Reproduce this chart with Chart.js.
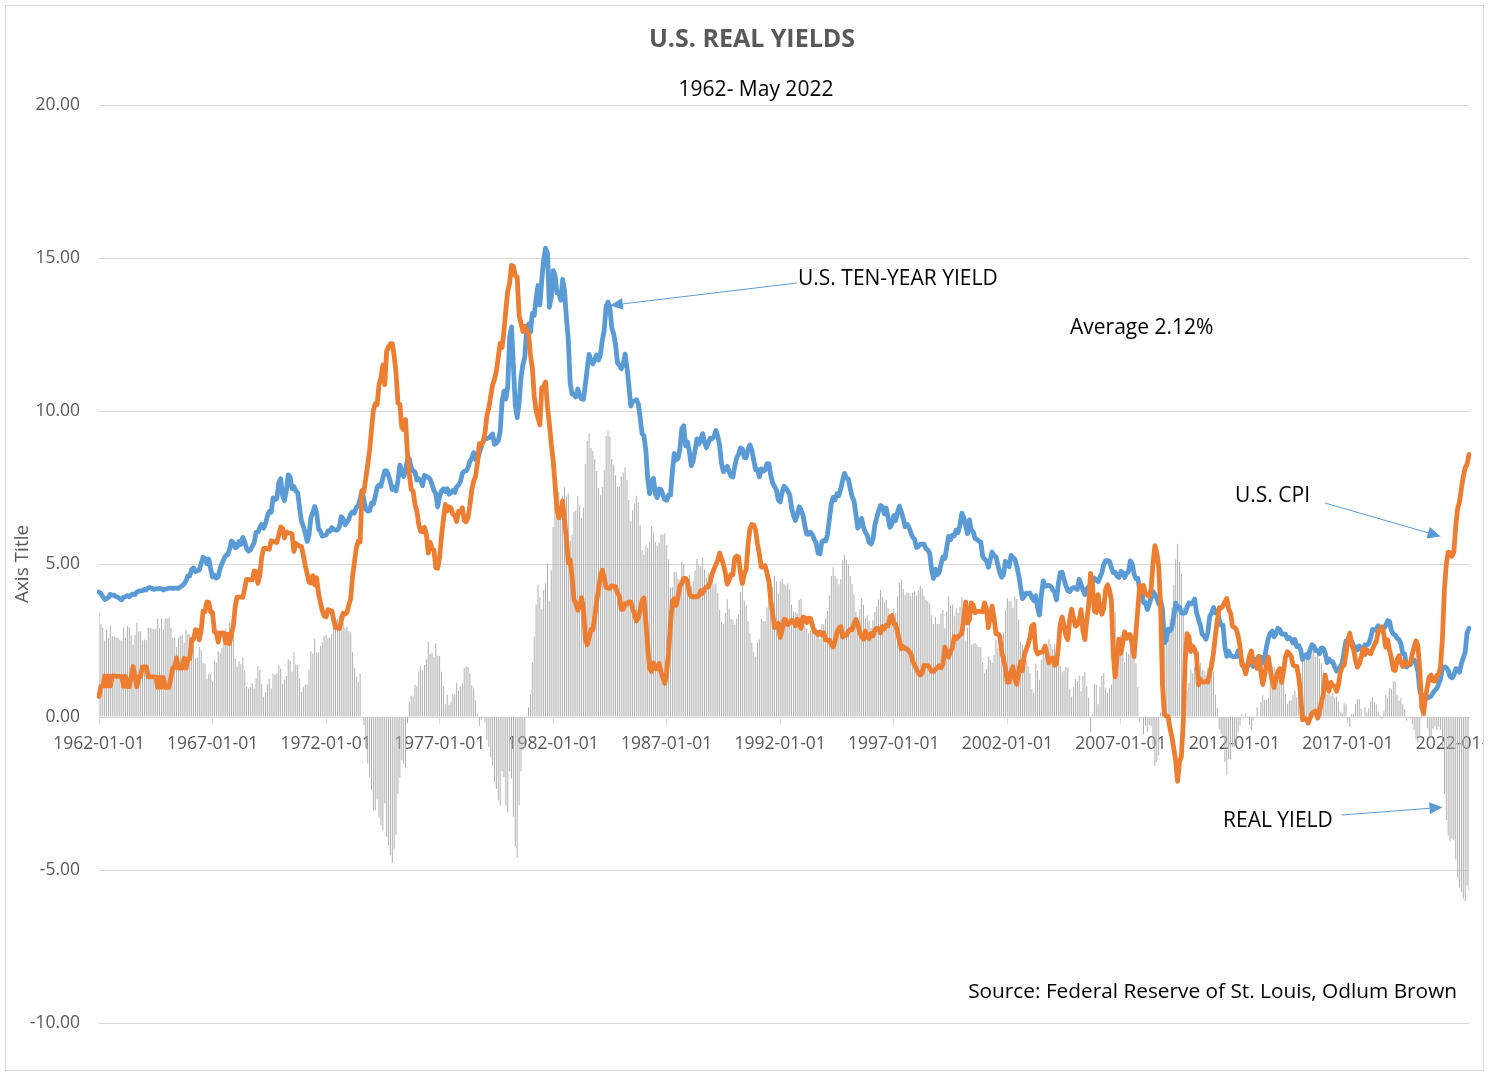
<!DOCTYPE html>
<html>
<head>
<meta charset="utf-8">
<title>U.S. Real Yields</title>
<script src="https://cdn.jsdelivr.net/npm/chart.js@4.4.1/dist/chart.umd.min.js"></script>
<style>
  html, body { margin: 0; padding: 0; background: #fff; }
  #wrap { position: absolute; left: 0; top: 0; width: 1484px; height: 1071px; overflow: hidden; }
</style>
</head>
<body>
<div id="wrap"><canvas id="realYieldChart" width="1484" height="1071"></canvas></div>
<script>
// --- data (monthly, Jan 1962 .. May 2022) ---
const FIRST_YEAR = 1962;

// U.S. 10-year Treasury yield, %
const tenYearYield = [
  4.08,4.04,3.93,3.84,3.87,3.91,4.01,3.98,3.98,3.93,3.92,3.86, // 1962
  3.83,3.92,3.93,3.97,3.93,3.99,4.02,4.00,4.08,4.11,4.12,4.13, // 1963
  4.17,4.15,4.22,4.23,4.20,4.17,4.19,4.19,4.20,4.19,4.15,4.18, // 1964
  4.19,4.21,4.21,4.20,4.21,4.21,4.20,4.25,4.29,4.35,4.45,4.62, // 1965
  4.61,4.83,4.87,4.75,4.78,4.81,5.02,5.22,5.18,5.01,5.16,4.84, // 1966
  4.58,4.63,4.54,4.59,4.85,5.02,5.16,5.28,5.30,5.48,5.75,5.70, // 1967
  5.53,5.56,5.74,5.64,5.87,5.72,5.50,5.42,5.46,5.58,5.70,6.03, // 1968
  6.04,6.19,6.30,6.17,6.32,6.57,6.72,6.69,7.16,7.10,7.14,7.65, // 1969
  7.79,7.24,7.07,7.39,7.91,7.84,7.46,7.53,7.39,7.33,6.84,6.39, // 1970
  6.24,6.00,5.74,5.96,6.52,6.69,6.88,6.67,6.15,6.07,5.91,5.93, // 1971
  5.95,6.08,6.07,6.19,6.13,6.11,6.11,6.21,6.55,6.48,6.28,6.36, // 1972
  6.46,6.64,6.71,6.67,6.85,6.90,7.13,7.40,7.09,6.79,6.73,6.74, // 1973
  6.99,6.96,7.21,7.51,7.58,7.54,7.81,8.04,8.04,7.90,7.68,7.43, // 1974
  7.50,7.39,7.73,8.23,8.06,7.86,8.06,8.40,8.43,8.14,8.05,8.00, // 1975
  7.74,7.79,7.73,7.56,7.90,7.86,7.83,7.77,7.59,7.41,7.29,6.87, // 1976
  7.21,7.39,7.46,7.37,7.46,7.28,7.33,7.40,7.34,7.52,7.58,7.69, // 1977
  7.96,8.03,8.04,8.15,8.35,8.46,8.64,8.41,8.42,8.64,8.81,9.01, // 1978
  9.10,9.10,9.12,9.18,9.25,8.91,8.95,9.03,9.33,10.30,10.65,10.39, // 1979
  10.80,12.41,12.75,11.47,10.18,9.78,10.25,11.10,11.51,11.75,12.68,12.84, // 1980
  12.57,13.19,13.12,13.68,14.10,13.47,14.28,14.94,15.32,15.15,13.39,13.72, // 1981
  14.59,14.43,13.86,13.87,13.62,14.30,13.95,13.06,12.34,10.91,10.55,10.54, // 1982
  10.46,10.72,10.51,10.40,10.38,10.85,11.38,11.85,11.65,11.54,11.69,11.83, // 1983
  11.67,11.84,12.32,12.63,13.41,13.56,13.36,12.72,12.52,12.16,11.57,11.50, // 1984
  11.38,11.51,11.86,11.43,10.85,10.16,10.31,10.33,10.37,10.24,9.78,9.26, // 1985
  9.19,8.70,7.78,7.30,7.71,7.80,7.30,7.17,7.45,7.43,7.25,7.11, // 1986
  7.08,7.25,7.25,8.02,8.61,8.40,8.45,8.76,9.42,9.52,8.86,8.99, // 1987
  8.67,8.21,8.37,8.72,9.09,8.92,9.06,9.26,8.98,8.80,8.96,9.11, // 1988
  9.09,9.17,9.36,9.18,8.86,8.28,8.02,8.11,8.19,8.01,7.87,7.84, // 1989
  8.21,8.47,8.59,8.79,8.76,8.48,8.47,8.75,8.89,8.72,8.39,8.08, // 1990
  8.09,7.85,8.11,8.04,8.07,8.28,8.27,7.90,7.65,7.53,7.42,7.09, // 1991
  7.03,7.34,7.54,7.48,7.39,7.26,6.84,6.59,6.42,6.59,6.87,6.77, // 1992
  6.60,6.26,5.98,5.97,6.04,5.96,5.81,5.68,5.36,5.33,5.72,5.77, // 1993
  5.75,5.97,6.48,6.97,7.18,7.10,7.30,7.24,7.46,7.74,7.96,7.81, // 1994
  7.78,7.47,7.20,7.06,6.63,6.17,6.28,6.49,6.20,6.04,5.93,5.71, // 1995
  5.65,5.81,6.27,6.51,6.74,6.91,6.87,6.64,6.83,6.53,6.20,6.30, // 1996
  6.58,6.42,6.69,6.89,6.71,6.49,6.22,6.30,6.21,6.03,5.88,5.81, // 1997
  5.54,5.57,5.65,5.64,5.65,5.50,5.46,5.34,4.81,4.53,4.83,4.65, // 1998
  4.72,5.00,5.23,5.18,5.54,5.90,5.79,5.94,5.92,6.11,6.03,6.28, // 1999
  6.66,6.52,6.26,5.99,6.44,6.10,6.05,5.83,5.80,5.74,5.72,5.24, // 2000
  5.16,5.10,4.89,5.14,5.39,5.28,5.24,4.97,4.73,4.57,4.65,5.09, // 2001
  5.04,4.91,5.28,5.21,5.16,4.93,4.65,4.26,3.87,3.94,4.05,4.03, // 2002
  4.05,3.90,3.81,3.96,3.57,3.33,3.98,4.45,4.27,4.29,4.30,4.27, // 2003
  4.15,4.08,3.83,4.35,4.72,4.73,4.50,4.28,4.13,4.10,4.19,4.23, // 2004
  4.22,4.17,4.50,4.34,4.14,4.00,4.18,4.26,4.20,4.46,4.54,4.47, // 2005
  4.42,4.57,4.72,4.99,5.11,5.11,5.09,4.88,4.72,4.73,4.60,4.56, // 2006
  4.76,4.72,4.56,4.69,4.75,5.10,5.00,4.67,4.52,4.53,4.15,4.10, // 2007
  3.74,3.74,3.51,3.68,3.88,4.10,4.01,3.89,3.69,3.81,3.53,2.42, // 2008
  2.52,2.87,2.82,2.93,3.29,3.72,3.56,3.59,3.40,3.39,3.40,3.59, // 2009
  3.73,3.69,3.73,3.85,3.42,3.20,3.01,2.70,2.65,2.54,2.76,3.29, // 2010
  3.39,3.58,3.41,3.46,3.17,3.00,3.00,2.30,1.98,2.15,2.01,1.98, // 2011
  1.97,1.97,2.17,2.05,1.80,1.62,1.53,1.68,1.72,1.75,1.65,1.72, // 2012
  1.91,1.98,1.96,1.76,1.93,2.30,2.58,2.74,2.81,2.62,2.72,2.90, // 2013
  2.86,2.71,2.72,2.71,2.56,2.60,2.54,2.42,2.53,2.30,2.33,2.21, // 2014
  1.88,1.98,2.04,1.94,2.20,2.36,2.32,2.17,2.17,2.07,2.26,2.24, // 2015
  2.09,1.78,1.89,1.81,1.81,1.64,1.50,1.56,1.63,1.76,2.14,2.49, // 2016
  2.43,2.42,2.48,2.30,2.30,2.19,2.32,2.21,2.20,2.36,2.35,2.40, // 2017
  2.58,2.86,2.84,2.87,2.98,2.91,2.89,2.89,3.00,3.15,3.12,2.83, // 2018
  2.71,2.68,2.57,2.53,2.40,2.07,2.06,1.63,1.70,1.71,1.81,1.86, // 2019
  1.76,1.50,0.87,0.66,0.67,0.73,0.62,0.65,0.68,0.79,0.87,0.93, // 2020
  1.08,1.26,1.61,1.64,1.62,1.52,1.32,1.28,1.37,1.58,1.56,1.47, // 2021
  1.76,1.93,2.13,2.75,2.90                                     // 2022
];

// U.S. CPI, year-over-year %
const cpiInflation = [
  0.67,1.01,1.01,1.34,1.01,1.34,1.01,1.34,1.34,1.33,1.33,1.33, // 1962
  1.33,1.00,1.33,0.99,0.99,1.32,1.65,1.32,0.99,1.32,1.32,1.64, // 1963
  1.64,1.64,1.31,1.31,1.31,1.31,1.30,0.97,1.30,0.97,1.29,0.97, // 1964
  0.97,0.97,1.29,1.61,1.61,1.93,1.60,1.60,1.60,1.92,1.60,1.91, // 1965
  1.91,2.54,2.54,2.85,2.84,2.52,2.83,3.46,3.44,3.76,3.75,3.43, // 1966
  3.41,2.78,2.76,2.45,2.75,2.75,2.74,2.42,2.71,2.40,2.70,2.99, // 1967
  3.62,3.92,3.92,3.92,3.91,4.20,4.50,4.49,4.48,4.48,4.77,4.76, // 1968
  4.37,4.65,5.23,5.51,5.51,5.50,5.48,5.76,5.74,5.72,5.70,5.95, // 1969
  6.21,6.17,5.85,6.05,6.02,6.01,5.98,5.41,5.67,5.63,5.59,5.57, // 1970
  5.27,4.95,4.68,4.41,4.38,4.62,4.32,4.55,4.04,3.75,3.47,3.30, // 1971
  3.27,3.51,3.48,3.47,3.19,2.92,2.91,2.89,3.13,3.39,3.36,3.41, // 1972
  3.65,3.87,4.59,5.06,5.53,5.75,5.72,7.39,7.36,7.80,8.25,8.71, // 1973
  9.38,10.02,10.24,10.21,10.87,11.08,11.51,10.86,11.95,12.10,12.20,12.20, // 1974
  11.80,11.23,10.25,10.21,9.47,9.39,9.72,8.60,7.93,7.44,7.38,6.94, // 1975
  6.72,6.29,6.07,6.05,6.20,5.97,5.36,5.71,5.49,5.46,4.88,4.86, // 1976
  5.22,5.91,6.45,6.95,6.73,6.87,6.83,6.62,6.60,6.39,6.72,6.70, // 1977
  6.84,6.43,6.38,6.51,6.92,7.42,7.70,7.86,8.31,8.93,8.89,9.01, // 1978
  9.28,9.86,10.09,10.49,10.85,11.04,11.30,11.76,12.21,12.07,12.61,13.29, // 1979
  13.91,14.18,14.76,14.73,14.41,14.38,13.13,12.87,12.60,12.77,12.65,12.52, // 1980
  11.83,11.41,10.49,10.00,9.78,9.55,10.76,10.80,10.95,10.14,9.59,8.92, // 1981
  8.39,7.62,6.78,6.51,6.68,7.06,6.44,5.85,5.04,5.14,4.59,3.83, // 1982
  3.71,3.49,3.60,3.90,3.55,2.58,2.36,2.58,2.86,2.85,3.27,3.79, // 1983
  4.19,4.60,4.80,4.56,4.23,4.22,4.20,4.29,4.27,4.26,4.05,3.95, // 1984
  3.52,3.52,3.70,3.69,3.76,3.76,3.55,3.35,3.14,3.23,3.51,3.80, // 1985
  3.89,3.11,2.26,1.59,1.49,1.77,1.58,1.57,1.75,1.47,1.28,1.10, // 1986
  1.46,2.10,3.03,3.78,3.86,3.65,3.93,4.28,4.36,4.53,4.53,4.43, // 1987
  4.03,3.93,3.93,3.93,3.93,3.96,4.13,4.04,4.17,4.25,4.25,4.42, // 1988
  4.67,4.83,4.98,5.12,5.36,5.17,4.98,4.71,4.34,4.47,4.66,4.65, // 1989
  5.20,5.26,5.23,4.71,4.36,4.67,4.82,5.62,6.16,6.29,6.27,6.11, // 1990
  5.65,5.31,4.90,4.90,4.95,4.70,4.45,3.80,3.39,2.92,2.99,3.06, // 1991
  2.60,2.82,3.19,3.18,3.02,3.09,3.16,3.14,2.98,3.20,3.05,2.90, // 1992
  3.26,3.25,3.09,3.23,3.22,3.00,2.78,2.77,2.69,2.78,2.68,2.75, // 1993
  2.52,2.51,2.51,2.36,2.29,2.49,2.77,2.90,2.96,2.61,2.67,2.67, // 1994
  2.80,2.86,2.85,3.05,3.19,3.04,2.76,2.62,2.54,2.81,2.61,2.56, // 1995
  2.73,2.65,2.84,2.90,2.89,2.75,2.95,2.88,3.00,2.98,3.26,3.32, // 1996
  3.04,3.03,2.76,2.50,2.23,2.30,2.23,2.23,2.15,2.08,1.83,1.70, // 1997
  1.57,1.44,1.37,1.44,1.69,1.68,1.68,1.62,1.49,1.49,1.55,1.61, // 1998
  1.67,1.61,1.73,2.28,2.09,1.96,2.14,2.26,2.63,2.56,2.62,2.68, // 1999
  2.74,3.22,3.76,3.07,3.19,3.73,3.66,3.41,3.45,3.45,3.45,3.44, // 2000
  3.73,3.53,2.92,3.27,3.62,3.25,2.72,2.72,2.65,2.13,1.90,1.60, // 2001
  1.14,1.14,1.48,1.64,1.23,1.07,1.46,1.80,1.51,2.03,2.20,2.38, // 2002
  2.60,2.98,3.02,2.22,2.06,2.11,2.11,2.16,2.32,2.04,1.77,1.88, // 2003
  1.93,1.69,1.74,2.29,3.05,3.27,2.99,2.65,2.53,3.19,3.52,3.26, // 2004
  2.97,3.01,3.15,3.51,2.80,2.53,3.17,3.64,4.69,4.35,3.46,3.42, // 2005
  4.00,3.60,3.36,3.55,4.17,4.32,4.15,3.82,2.06,1.31,1.97,2.54, // 2006
  2.08,2.42,2.78,2.57,2.69,2.69,2.36,1.97,2.76,3.54,4.31,4.08, // 2007
  4.30,4.03,3.98,3.94,4.18,5.02,5.60,5.37,4.94,3.66,1.07,0.09, // 2008
  0.03,0.02,-0.38,-0.64,-1.03,-1.43,-2.10,-1.48,-1.29,-0.18,1.84,2.72, // 2009
  2.62,2.14,2.31,2.22,2.00,1.05,1.24,1.15,1.14,1.17,1.14,1.44, // 2010
  1.69,2.11,2.68,3.16,3.57,3.56,3.63,3.77,3.87,3.53,3.39,2.96, // 2011
  2.93,2.87,2.65,2.30,1.70,1.66,1.41,1.69,1.99,2.16,1.77,1.74, // 2012
  1.59,1.98,1.47,1.06,1.36,1.75,1.96,1.52,1.18,0.96,1.24,1.50, // 2013
  1.58,1.13,1.51,1.95,2.13,2.07,1.99,1.70,1.66,1.66,1.32,0.76, // 2014
  -0.09,-0.03,-0.07,-0.20,-0.04,0.12,0.17,0.20,-0.04,0.17,0.50,0.73, // 2015
  1.37,1.02,0.85,1.13,1.02,1.01,0.84,1.06,1.46,1.64,1.69,2.07, // 2016
  2.50,2.74,2.38,2.20,1.87,1.63,1.73,1.94,2.23,2.04,2.20,2.11, // 2017
  2.07,2.21,2.36,2.46,2.80,2.87,2.95,2.70,2.28,2.52,2.18,1.91, // 2018
  1.55,1.52,1.86,2.00,1.79,1.65,1.81,1.75,1.71,1.76,2.05,2.29, // 2019
  2.49,2.33,1.54,0.33,0.12,0.65,0.99,1.31,1.37,1.18,1.17,1.36, // 2020
  1.40,1.68,2.62,4.16,4.99,5.39,5.37,5.25,5.39,6.24,6.81,7.04, // 2021
  7.48,7.87,8.15,8.26,8.58                                     // 2022
];

// labels shown on the category axis (every 5 years)
const xTickLabels = [
  '1962-01-01','1967-01-01','1972-01-01','1977-01-01','1982-01-01','1987-01-01','1992-01-01',
  '1997-01-01','2002-01-01','2007-01-01','2012-01-01','2017-01-01','2022-01-01'
];

const Y_MIN = -10, Y_MAX = 20, Y_STEP = 5;

// one category per month, "YYYY-MM-01"
const months = tenYearYield.map((_, i) => {
  const y = FIRST_YEAR + Math.floor(i / 12);
  const m = String(i % 12 + 1).padStart(2, '0');
  return `${y}-${m}-01`;
});

// real yield = ten-year yield minus CPI inflation
const realYield = tenYearYield.map((v, i) => +(v - cpiInflation[i]).toFixed(2));

// --- look ---
const FONT = '"Open Sans", "Liberation Sans", sans-serif';
const BLUE = '#5B9BD5';
const ORANGE = '#ED7D31';
const GRID = '#d9d9d9';
const AXIS_TEXT = '#595959';

// free text + arrows drawn over the chart (arrow tips point at data positions)
const notes = [
  { text: 'U.S. TEN-YEAR YIELD', x: 798, y: 279.5, size: 21, align: 'left',
    arrow: { from: [797, 283], to: { label: '1984-07-01', value: 13.45 } } },
  { text: 'Average 2.12%', x: 1070, y: 328.5, size: 21, align: 'left' },
  { text: 'U.S. CPI', x: 1235, y: 496.5, size: 21, align: 'left',
    arrow: { from: [1325, 503], to: { label: '2021-02-01', value: 5.9 } } },
  { text: 'REAL YIELD', x: 1223, y: 821.5, size: 21, align: 'left',
    arrow: { from: [1342, 815], to: { label: '2021-03-01', value: -2.95 } } },
  { text: 'Source: Federal Reserve of St. Louis, Odlum Brown', x: 1457, y: 992.5, size: 20.8, align: 'right' }
];

function drawArrow(c, x1, y1, x2, y2) {
  const ang = Math.atan2(y2 - y1, x2 - x1);
  const head = 13, half = 6;
  const bx = x2 - head * Math.cos(ang), by = y2 - head * Math.sin(ang);
  c.strokeStyle = BLUE;
  c.fillStyle = BLUE;
  c.lineWidth = 1;
  c.beginPath();
  c.moveTo(x1, y1);
  c.lineTo(bx, by);
  c.stroke();
  c.beginPath();
  c.moveTo(x2, y2);
  c.lineTo(bx + half * Math.sin(ang), by - half * Math.cos(ang));
  c.lineTo(bx - half * Math.sin(ang), by + half * Math.cos(ang));
  c.closePath();
  c.fill();
}

const frameAndNotes = {
  id: 'frameAndNotes',
  afterDraw(chart) {
    const c = chart.ctx;
    const xs = chart.scales.x, ys = chart.scales.y;
    c.save();

    // outer frame
    c.strokeStyle = GRID;
    c.lineWidth = 1;
    c.strokeRect(5.5, 5.5, 1478, 1065);

    // title + subtitle
    c.textBaseline = 'middle';
    c.textAlign = 'center';
    c.fillStyle = AXIS_TEXT;
    c.font = `bold 25px ${FONT}`;
    c.fillText('U.S. REAL YIELDS', 752, 40);
    c.fillStyle = '#000';
    c.font = `21px ${FONT}`;
    c.fillText('1962- May 2022', 756, 90);

    // y axis title
    c.save();
    c.translate(23, 564);
    c.rotate(-Math.PI / 2);
    c.fillStyle = AXIS_TEXT;
    c.font = `19px ${FONT}`;
    c.fillText('Axis Title', 0, 0);
    c.restore();

    notes.forEach(n => {
      c.fillStyle = '#000';
      c.font = `${n.size}px ${FONT}`;
      c.textAlign = n.align;
      c.fillText(n.text, n.x, n.y);
      if (n.arrow) {
        const tx = xs.getPixelForValue(months.indexOf(n.arrow.to.label));
        const ty = ys.getPixelForValue(n.arrow.to.value);
        drawArrow(c, n.arrow.from[0], n.arrow.from[1], tx, ty);
      }
    });
    c.restore();
  }
};

new Chart(document.getElementById('realYieldChart'), {
  type: 'bar',
  data: {
    labels: months,
    datasets: [
      {
        type: 'line',
        label: 'U.S. CPI',
        data: cpiInflation,
        borderColor: ORANGE,
        borderWidth: 4.8,
        pointRadius: 0,
        borderJoinStyle: 'round',
        borderCapStyle: 'round',
        order: 1
      },
      {
        type: 'line',
        label: 'U.S. TEN-YEAR YIELD',
        data: tenYearYield,
        borderColor: BLUE,
        borderWidth: 4.8,
        pointRadius: 0,
        borderJoinStyle: 'round',
        borderCapStyle: 'round',
        order: 2
      },
      {
        type: 'bar',
        label: 'REAL YIELD',
        data: realYield,
        backgroundColor: '#acacac',
        barPercentage: 0.5,
        categoryPercentage: 1,
        inflateAmount: 0,
        order: 3
      }
    ]
  },
  options: {
    responsive: false,
    animation: false,
    devicePixelRatio: 1,
    events: [],
    layout: { padding: { top: 105, right: 15, bottom: 48, left: 0 } },
    plugins: {
      legend: { display: false },
      tooltip: { enabled: false }
    },
    scales: {
      x: {
        type: 'category',
        position: { y: 0 },
        offset: false,
        z: 1,
        grid: { offset: false, drawOnChartArea: false, drawTicks: true, tickLength: 6, color: GRID },
        border: { color: GRID, width: 1 },
        ticks: {
          autoSkip: false,
          maxRotation: 0,
          minRotation: 0,
          padding: 11,
          color: AXIS_TEXT,
          font: { family: FONT, size: 17.5 }
        },
        afterBuildTicks: (scale) => {
          scale.ticks = xTickLabels.map(lbl => ({ value: months.indexOf(lbl) }));
        },
        afterFit: (scale) => {
          scale.paddingLeft = 0;
          scale.paddingRight = 0;
        }
      },
      y: {
        min: Y_MIN,
        max: Y_MAX,
        ticks: {
          stepSize: Y_STEP,
          padding: 19,
          color: AXIS_TEXT,
          font: { family: FONT, size: 17.5 },
          callback: (v) => Number(v).toFixed(2)
        },
        grid: { color: GRID, drawTicks: false },
        border: { display: false },
        afterFit: (scale) => { scale.width = 99; }
      }
    }
  },
  plugins: [frameAndNotes]
});
</script>
</body>
</html>
